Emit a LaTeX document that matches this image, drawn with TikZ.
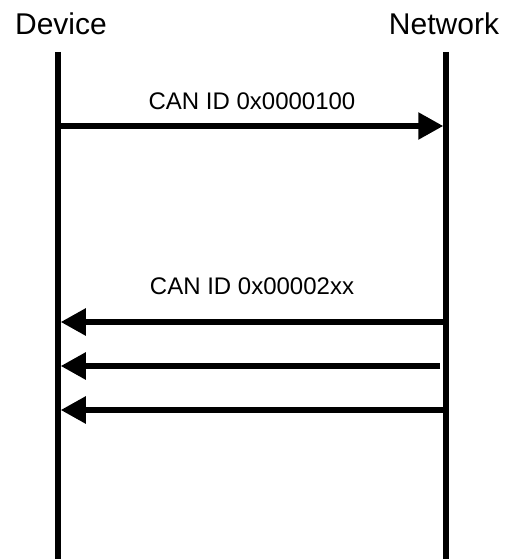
\documentclass[tikz,border=0pt]{standalone}
\usepackage{fontspec}
\setmainfont{Liberation Sans}
\usetikzlibrary{arrows.meta}

\begin{document}
\begin{tikzpicture}[x=1pt, y=-1pt, >={Triangle[length=25pt,width=26pt]},
        actor/.style={font=\fontsize{30}{36}\selectfont, anchor=base, inner sep=0pt},
        idlabel/.style={font=\fontsize{24}{29}\selectfont, anchor=base, inner sep=0pt},
        lifeline/.style={line width=5.5pt},
        msg/.style={->, line width=5.5pt, shorten >=2.75pt}]
        \useasboundingbox (0,0) rectangle (507,559);

        % Partecipanti
        \node[actor] (device) at (61,35) {Device};
        \node[actor] (network) at (444,35) {Network};

        % Linee di vita
        \coordinate (devtop) at (58,52);
        \coordinate (devbot) at (58,559);
        \coordinate (nettop) at (446,52);
        \coordinate (netbot) at (446,559);
        \draw[lifeline] (devtop) -- (devbot);
        \draw[lifeline] (nettop) -- (netbot);

        % Richiesta verso la rete
        \coordinate (req0) at (58,126);
        \coordinate (req1) at (446,126);
        \draw[msg] (req0) -- (req1);
        \node[idlabel] (reqid) at (252,110) {CAN ID 0x0000100};

        % Risposte verso il dispositivo
        \coordinate (ans1a) at (446,322);
        \coordinate (ans1b) at (58,322);
        \coordinate (ans2a) at (440,366);
        \coordinate (ans2b) at (58,366);
        \coordinate (ans3a) at (446,410);
        \coordinate (ans3b) at (58,410);
        \draw[msg] (ans1a) -- (ans1b);
        \draw[msg] (ans2a) -- (ans2b);
        \draw[msg] (ans3a) -- (ans3b);
        \node[idlabel] (ansid) at (252,294) {CAN ID 0x00002xx};
\end{tikzpicture}
\end{document}
